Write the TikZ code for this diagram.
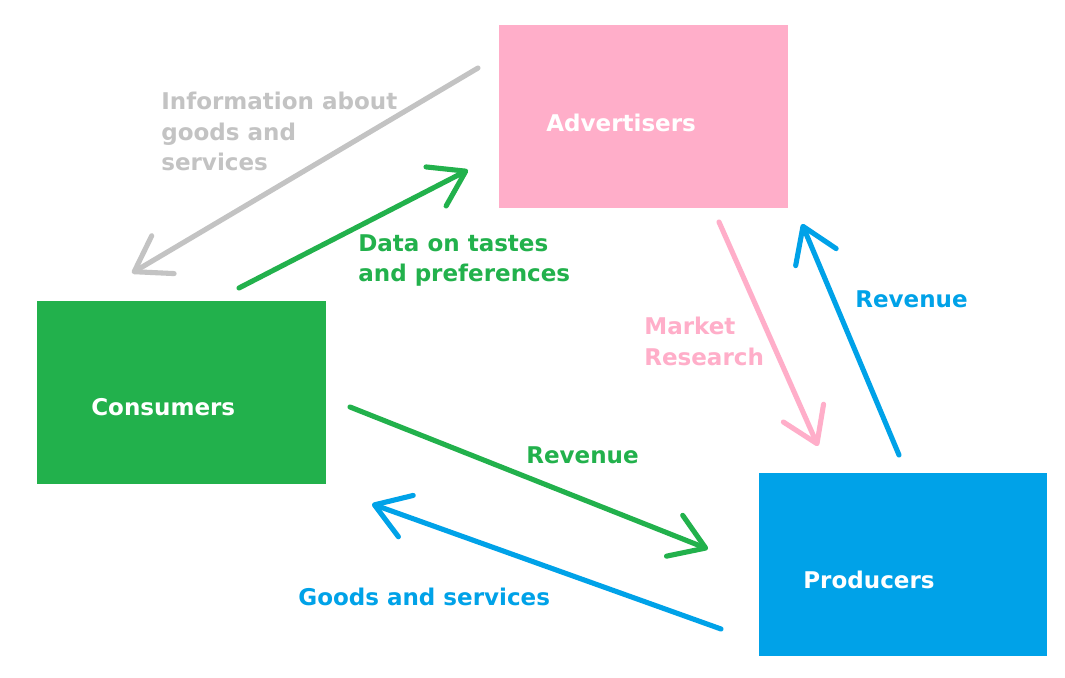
\documentclass[tikz,border=0pt]{standalone}
\usepackage{fontspec}
\setmainfont{DejaVu Sans}
\usetikzlibrary{arrows.meta}

\definecolor{adpink}{HTML}{FFAEC9}
\definecolor{congreen}{HTML}{22B14C}
\definecolor{problue}{HTML}{00A2E8}
\definecolor{infogray}{HTML}{C3C3C3}

\tikzset{
  agent/.style={fill=#1, inner sep=0pt, minimum width=5.78cm, minimum height=3.66cm},
  agenttext/.style={text=white, anchor=west, inner sep=0pt, font=\fontsize{13.1}{17.3}\selectfont\bfseries},
  flowtext/.style={text=#1, anchor=north west, align=left, inner sep=0pt, font=\fontsize{13.1}{17.3}\selectfont\bfseries},
  flow/.style={draw=#1, line width=2.9pt, line cap=round, -{Straight Barb[length=19pt,width=25pt,round]}}
}

\begin{document}
\begin{tikzpicture}[x=0.02cm,y=-0.02cm]
\fill [white] (0,0) rectangle (1065,678);
\useasboundingbox (0,0) rectangle (1065,678);

\node [agent=adpink] (adv) at (643.5,116.5) {};
\node [agent=congreen] (con) at (181.5,392.5) {};
\node [agent=problue] (pro) at (903,564.5) {};

\node [agenttext] (advname) at (546,123) {Advertisers};
\node [agenttext] (conname) at (91,407) {Consumers};
\node [agenttext] (proname) at (803,580) {Producers};

% ends of the flows
\coordinate (info-a) at (478,68);
\coordinate (info-b) at (132,273);
\coordinate (data-a) at (239,288);
\coordinate (data-b) at (468,170);
\coordinate (mkt-a) at (719,222);
\coordinate (mkt-b) at (818,446);
\coordinate (rev1-a) at (899,455);
\coordinate (rev1-b) at (802,224);
\coordinate (rev2-a) at (350,407);
\coordinate (rev2-b) at (708,549);
\coordinate (goods-a) at (721,629);
\coordinate (goods-b) at (372,504);

\draw [flow=infogray] (info-a) -- (info-b);
\draw [flow=congreen] (data-a) -- (data-b);
\draw [flow=adpink] (mkt-a) -- (mkt-b);
\draw [flow=problue] (rev1-a) -- (rev1-b);
\draw [flow=congreen] (rev2-a) -- (rev2-b);
\draw [flow=problue] (goods-a) -- (goods-b);

\node [flowtext=infogray] (infotext) at (161,92) {Information about\\goods and\\services};
\node [flowtext=congreen] (datatext) at (358,234) {Data on tastes\\and preferences};
\node [flowtext=adpink] (mkttext) at (644,317) {Market\\Research};
\node [flowtext=problue, anchor=west] (rev1text) at (855,299) {Revenue};
\node [flowtext=congreen, anchor=west] (rev2text) at (526,455) {Revenue};
\node [flowtext=problue, anchor=west] (goodstext) at (298,597) {Goods and services};
\end{tikzpicture}
\end{document}
